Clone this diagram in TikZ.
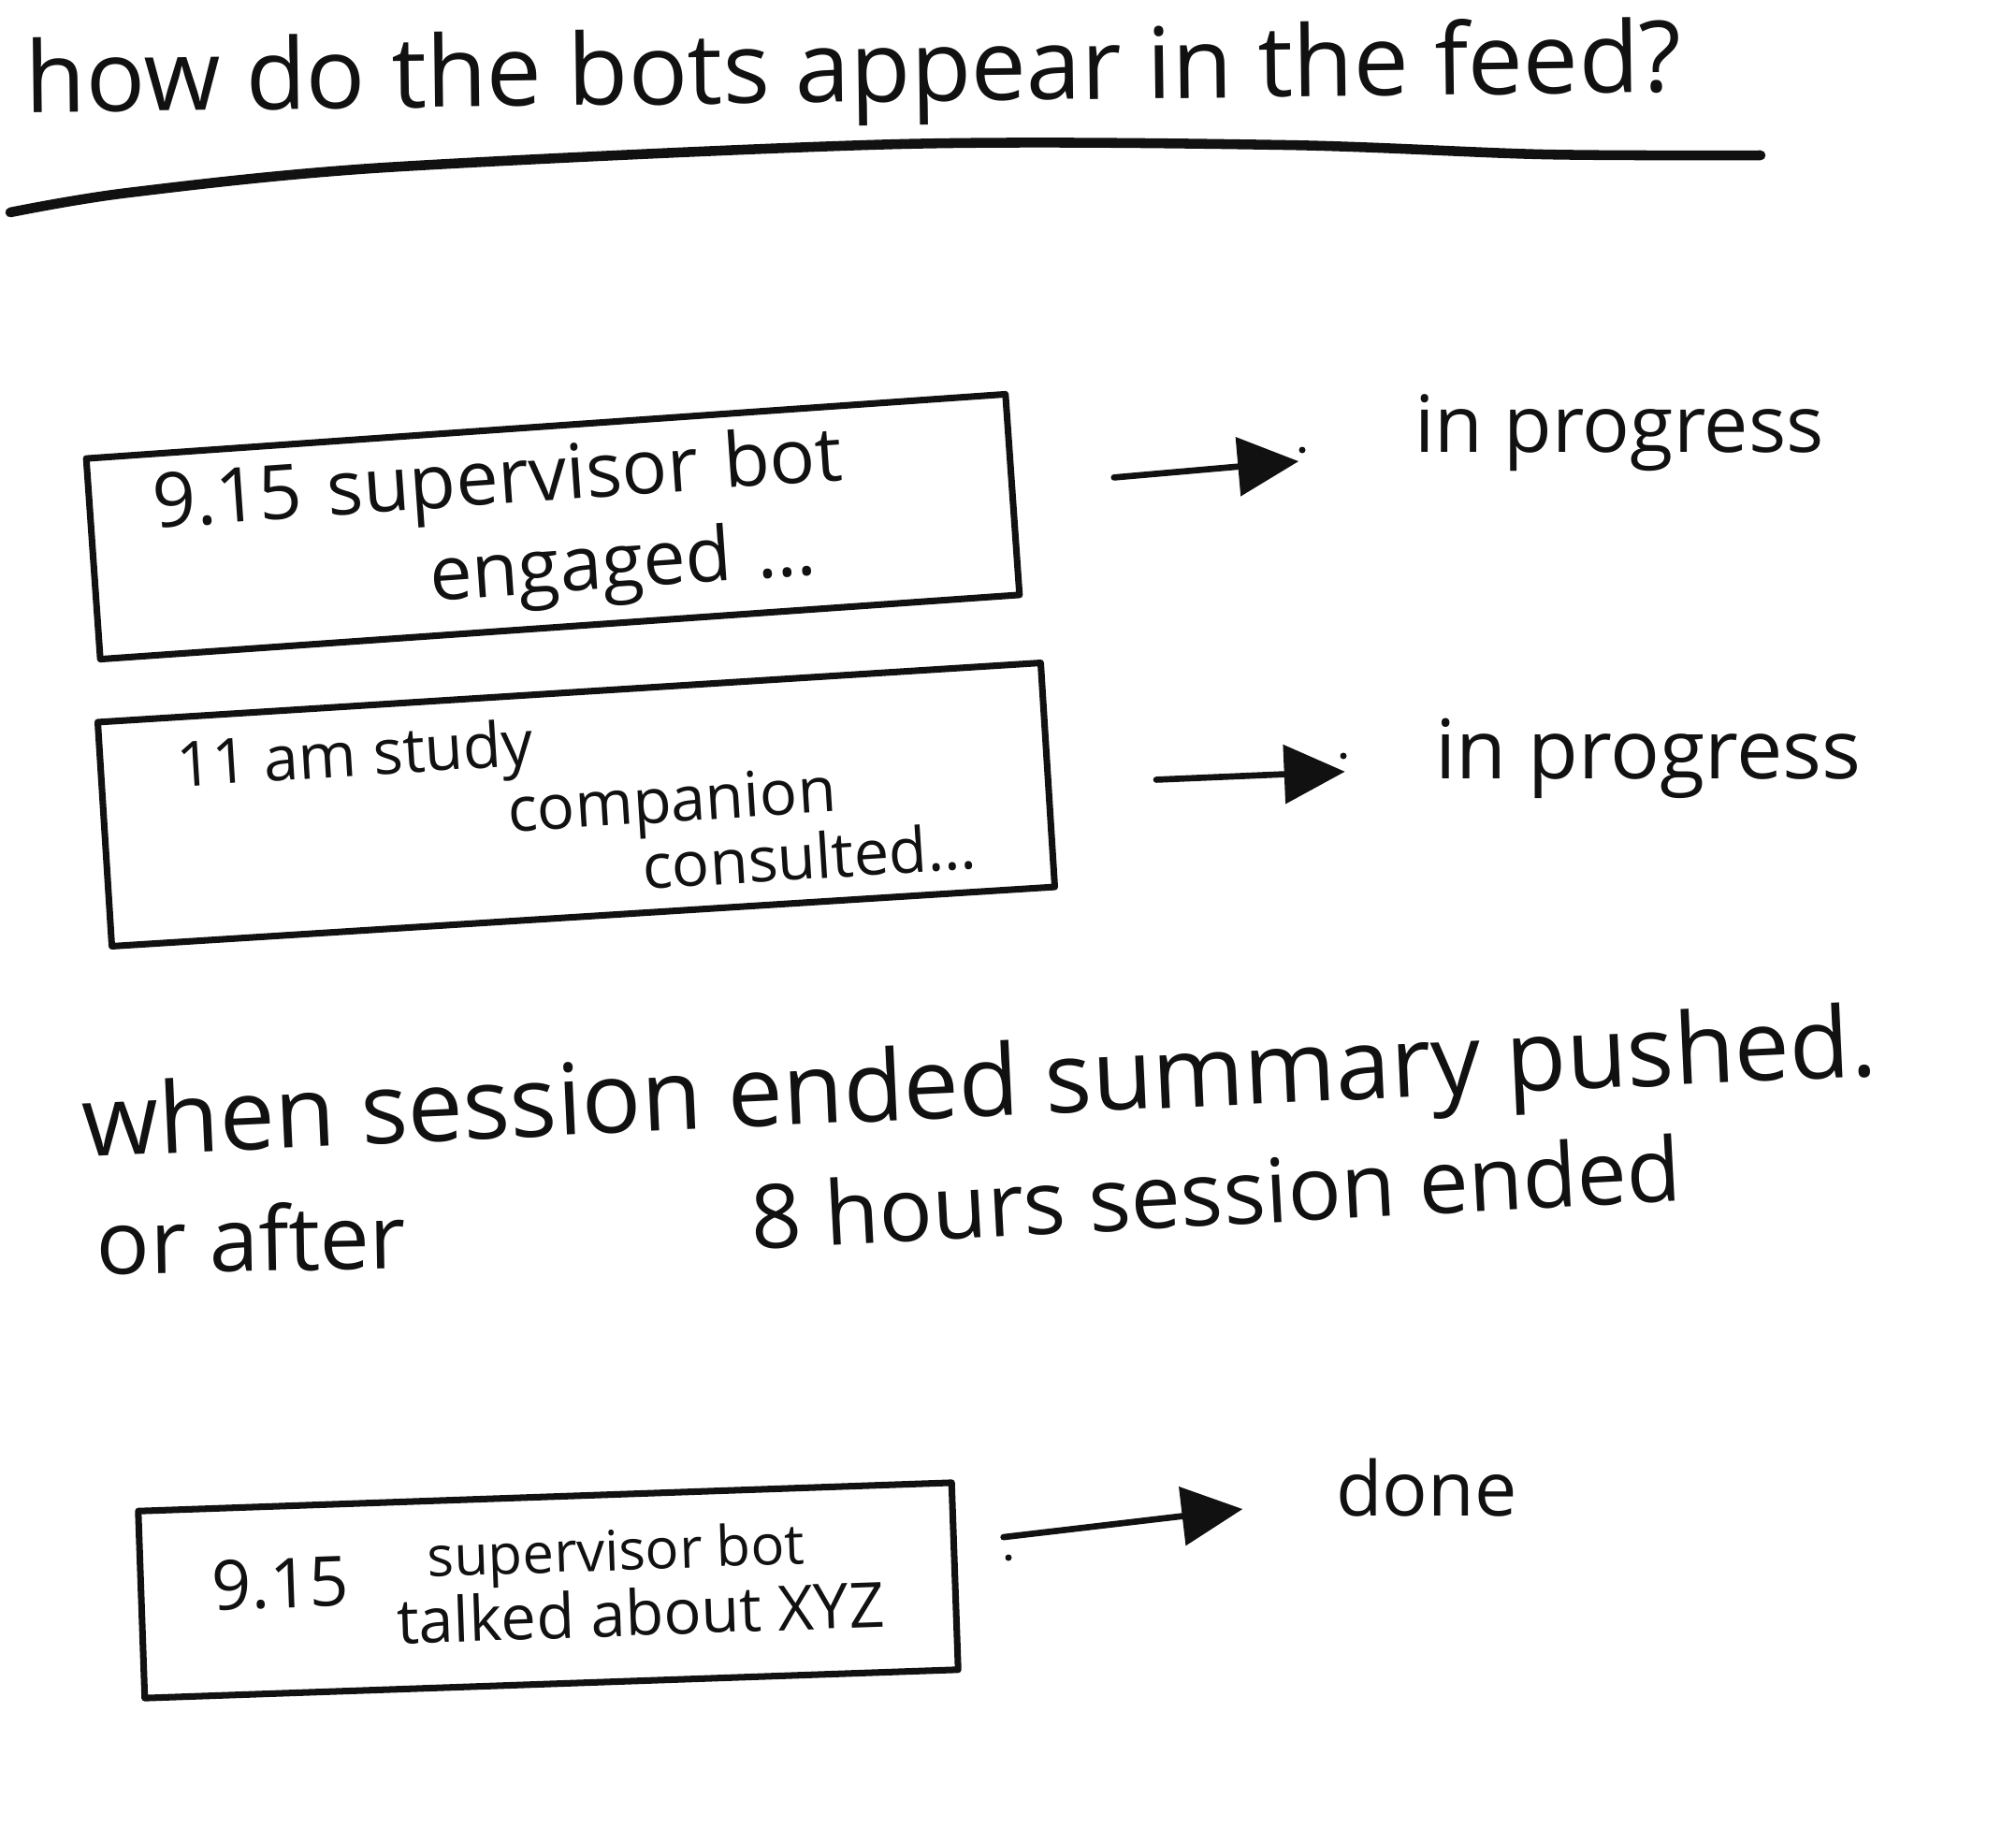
\documentclass[tikz,border=0pt]{standalone}
\usepackage{fontspec}
\setmainfont{Open Sans}
\usetikzlibrary{positioning, arrows.meta, calc}
\definecolor{ink}{HTML}{111111}

\begin{document}
\begin{tikzpicture}[
    pen/.style={ink, line width=2pt, line cap=round, line join=round},
    card/.style={pen, draw, rectangle, align=left, inner sep=0pt},
    flow/.style={pen, line width=1.9pt, -{Triangle[length=0.65cm, width=0.62cm]}},
    hand/.style={text=ink, inner sep=0pt}
  ]
  \useasboundingbox (0,0) rectangle (21.55,-19.53);

  % heading
  \node[hand, anchor=base west, rotate=0.7, font=\fontsize{30}{34}\selectfont] (title) at (0.27,-1.2) {how do the bots appear in the feed?};
  \draw[pen, line width=3pt] plot[smooth] coordinates {(0.11,-2.27) (1.37,-2.06) (4.12,-1.79) (9.62,-1.54) (13.74,-1.55) (16.49,-1.65) (18.82,-1.66)};

  % live cards
  \node[card, rotate=4, minimum width=9.85cm, minimum height=2.15cm, text width=8.5cm,
    font=\fontsize{23}{28}\selectfont] (bot1) at (5.91,-5.63) {9.15 supervisor bot\\\hspace*{2.9cm}engaged \ldots};
  \node[card, rotate=3.6, minimum width=10.1cm, minimum height=2.4cm,
    font=\fontsize{19}{20}\selectfont] (bot2) at (6.16,-8.6) {11 am study\\\hspace*{3.5cm}companion\\\hspace*{4.9cm}consulted\ldots};

  \node[hand, font=\fontsize{24}{28}\selectfont] (st1) at (17.31,-4.63) {in progress};
  \node[hand, font=\fontsize{25}{28}\selectfont] (st2) at (17.62,-8.11) {in progress};

  \draw[flow, shorten <=1.06cm, shorten >=1.24cm] (bot1) -- (st1);
  \draw[flow, shorten <=1.12cm, shorten >=0.96cm] (bot2) -- (st2);
  \fill[ink] (13.92,-4.81) circle (0.035);
  \fill[ink] (14.36,-8.08) circle (0.035);

  % rule for closing
  \node[hand, anchor=base west, rotate=2.6, font=\fontsize{30}{34}\selectfont] (note1) at (0.89,-12.37) {when session ended summary pushed.};
  \node[hand, anchor=base west, rotate=1, font=\fontsize{27}{30}\selectfont] (note2) at (1.03,-13.62) {or after};
  \node[hand, anchor=base west, rotate=3, font=\fontsize{27}{30}\selectfont] (note3) at (8.04,-13.36) {8 hours session ended};

  % finished card
  \node[card, rotate=2, minimum width=8.7cm, minimum height=2.0cm] (bot3) at (5.86,-17.0)
    {{\fontsize{21}{24}\selectfont 9.15}\hspace{0.5cm}%
     \begin{tabular}[c]{@{}l@{}}\hspace*{0.35cm}{\fontsize{17}{18}\selectfont supervisor bot}\\[2pt]
     {\fontsize{19}{20}\selectfont talked about XYZ}\end{tabular}};
  \node[hand, font=\fontsize{23}{26}\selectfont] (st3) at (15.25,-15.9) {done};

  \draw[flow, shorten <=0.5cm, shorten >=1.0cm] (bot3) -- (st3);
  \fill[ink] (10.78,-16.65) circle (0.035);
\end{tikzpicture}
\end{document}
